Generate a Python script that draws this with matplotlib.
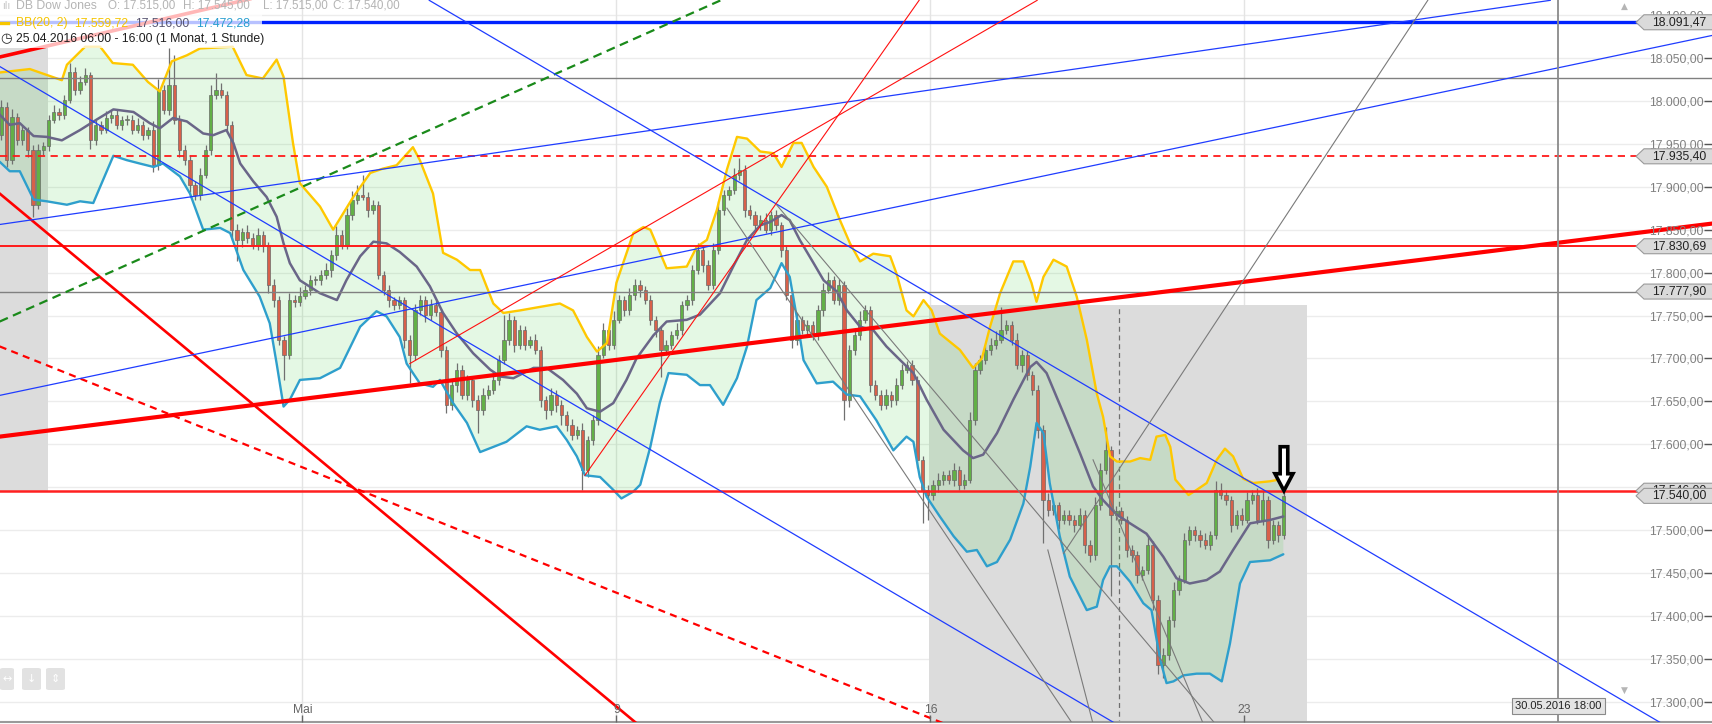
import numpy as np
import matplotlib
matplotlib.use('Agg')
import matplotlib.pyplot as plt
from matplotlib import transforms
from matplotlib.patches import Polygon, Rectangle, FancyBboxPatch
from matplotlib.lines import Line2D

plt.rcParams['font.family'] = ['Liberation Sans', 'DejaVu Sans']

# ---------------- data ----------------
# x unit = trading day since Mon 25.04.2016 (weekdays only); 12 hourly slots per day
slots_per_day = 12
first_slot = 2
first_open = 17960
closes = [
    17993, 17931, 17981, 17954, 17966, 17943, 17879, 17943, 17947, 17978, 17987, 17984,
    18001, 18034, 18013, 18022, 18030, 17954, 17972, 17966, 17980, 17984, 17972, 17978,
    17978, 17966, 17972, 17960, 17966, 17925, 18013, 17989, 18018, 17978, 17943, 17931,
    17902, 17890, 17914, 17943, 18007, 18013, 18007, 17972, 17850, 17838, 17847, 17840,
    17832, 17844, 17832, 17786, 17768, 17722, 17704, 17768, 17766, 17773, 17780, 17791,
    17791, 17797, 17803, 17821, 17844, 17832, 17867, 17885, 17890, 17888, 17873, 17879,
    17797, 17780, 17768, 17762, 17768, 17722, 17704, 17756, 17768, 17751, 17762, 17754,
    17710, 17646, 17669, 17687, 17658, 17675, 17652, 17640, 17658, 17663, 17675, 17698,
    17722, 17745, 17716, 17733, 17716, 17722, 17710, 17652, 17640, 17658, 17646, 17634,
    17623, 17611, 17617, 17570, 17605, 17628, 17704, 17733, 17716, 17745, 17768, 17756,
    17774, 17786, 17780, 17768, 17745, 17733, 17710, 17716, 17727, 17733, 17762, 17768,
    17803, 17826, 17809, 17786, 17826, 17873, 17890, 17896, 17914, 17920, 17873, 17867,
    17855, 17861, 17850, 17867, 17855, 17826, 17774, 17722, 17745, 17733, 17739, 17727,
    17756, 17780, 17791, 17768, 17786, 17652, 17710, 17727, 17745, 17756, 17669, 17658,
    17646, 17658, 17652, 17669, 17687, 17692, 17675, 17582, 17547, 17541, 17553, 17559,
    17564, 17559, 17570, 17553, 17559, 17628, 17687, 17698, 17710, 17716, 17722, 17733,
    17739, 17722, 17692, 17704, 17681, 17663, 17617, 17535, 17524, 17529, 17512, 17518,
    17512, 17506, 17518, 17483, 17471, 17529, 17570, 17593, 17518, 17522, 17512, 17477,
    17471, 17448, 17454, 17483, 17419, 17343, 17355, 17395, 17430, 17442, 17489, 17500,
    17494, 17489, 17483, 17494, 17547, 17541, 17535, 17506, 17518, 17512, 17535, 17541,
    17512, 17535, 17489, 17506, 17494, 17540,
]
wick_up = [
    8, 6, 10, 5, 6, 4, 5, 7, 5, 6, 8, 5,
    6, 10, 5, 7, 8, 4, 6, 5, 8, 5, 6, 4,
    5, 6, 8, 5, 4, 10, 12, 6, 43, 35, 6, 5,
    6, 5, 8, 6, 12, 19, 8, 5, 4, 6, 5, 8,
    6, 8, 5, 4, 6, 5, 4, 8, 6, 10, 5, 6,
    5, 6, 8, 5, 10, 6, 8, 10, 12, 24, 6, 5,
    4, 5, 6, 4, 5, 3, 5, 8, 6, 5, 7, 5,
    4, 5, 6, 8, 5, 6, 4, 5, 8, 6, 10, 6,
    29, 8, 5, 6, 5, 4, 6, 5, 4, 8, 5, 6,
    5, 6, 4, 8, 5, 6, 10, 8, 5, 10, 6, 5,
    8, 6, 5, 4, 6, 5, 4, 6, 5, 8, 5, 6,
    6, 8, 5, 6, 8, 10, 6, 5, 8, 13, 5, 6,
    5, 6, 8, 5, 6, 4, 5, 6, 8, 5, 6, 5,
    6, 8, 10, 5, 6, 4, 6, 8, 10, 6, 5, 6,
    5, 6, 4, 8, 6, 5, 6, 5, 4, 6, 5, 8,
    5, 6, 8, 5, 6, 10, 8, 6, 5, 8, 10, 27,
    6, 5, 8, 6, 5, 4, 6, 5, 8, 5, 4, 6,
    5, 6, 8, 5, 6, 10, 8, 27, 5, 6, 5, 4,
    6, 5, 4, 10, 5, 6, 8, 5, 10, 6, 8, 5,
    5, 6, 8, 5, 10, 8, 6, 5, 6, 8, 10, 6,
    8, 12, 5, 6, 5, 5,
]
wick_dn = [
    6, 8, 5, 6, 5, 8, 14, 5, 6, 5, 4, 6,
    5, 4, 6, 5, 4, 10, 6, 5, 4, 6, 5, 6,
    6, 5, 4, 6, 5, 8, 5, 4, 6, 5, 8, 6,
    8, 6, 5, 4, 6, 5, 4, 6, 12, 25, 8, 6,
    5, 6, 8, 10, 8, 6, 29, 5, 6, 5, 4, 6,
    6, 5, 4, 8, 6, 5, 4, 6, 5, 4, 8, 5,
    5, 6, 8, 5, 4, 10, 33, 6, 5, 8, 6, 5,
    8, 10, 6, 8, 5, 6, 8, 27, 6, 5, 4, 6,
    5, 6, 8, 5, 6, 4, 5, 8, 10, 6, 8, 12,
    8, 6, 5, 23, 8, 6, 5, 4, 6, 5, 4, 6,
    5, 6, 8, 5, 6, 8, 32, 6, 5, 4, 6, 5,
    6, 5, 8, 6, 5, 4, 6, 5, 4, 6, 8, 5,
    6, 5, 4, 6, 5, 8, 6, 10, 6, 5, 4, 6,
    5, 6, 4, 5, 6, 24, 8, 6, 5, 4, 8, 6,
    6, 5, 8, 6, 5, 4, 6, 10, 39, 29, 6, 8,
    6, 5, 8, 6, 5, 4, 6, 5, 4, 6, 5, 4,
    5, 6, 4, 8, 6, 5, 10, 50, 8, 6, 10, 5,
    6, 8, 5, 10, 8, 6, 5, 4, 95, 6, 5, 8,
    8, 10, 6, 5, 12, 10, 15, 6, 8, 5, 4, 6,
    6, 8, 5, 6, 4, 5, 6, 8, 5, 6, 4, 5,
    5, 6, 10, 5, 8, 4,
]

# Bollinger band (20, 2)
upper_x = [0.18, 0.66, 1.17, 1.25, 1.54, 1.78, 1.98, 2.30, 2.54, 2.73, 2.92, 3.16, 3.37, 3.89, 4.11, 4.37,
           4.59, 4.70, 4.85, 4.96, 5.28, 5.49, 5.81, 6.08, 6.28, 6.50, 6.76, 6.87, 7.08, 7.24, 7.46, 7.67,
           7.83, 8.04, 8.20, 8.47, 8.78, 9.10, 9.31, 9.53, 9.69, 9.85, 10.00, 10.27, 10.43, 10.54, 10.80,
           11.12, 11.28, 11.44, 11.60, 11.76, 11.92, 12.08, 12.29, 12.50, 12.63, 12.82, 12.95, 13.14, 13.35,
           13.56, 13.72, 13.88, 14.09, 14.36, 14.46, 14.62, 14.73, 14.89, 15.02, 15.15, 15.47, 15.68, 15.82,
           15.95, 16.11, 16.32, 16.48, 16.61, 16.69, 16.80, 16.96, 17.17, 17.33, 17.49, 17.65, 17.75, 17.86,
           17.97, 18.18, 18.34, 18.50, 18.60, 18.74, 18.82, 18.90, 19.11, 19.24, 19.40, 19.56, 19.69, 19.82,
           19.98, 20.14, 20.41, 20.62]
upper_y = [18033, 18037, 18024, 18042, 18063, 18063, 18044, 18042, 18022, 18011, 18046, 18053, 18061, 18063,
           18030, 18026, 18048, 18028, 17951, 17904, 17877, 17850, 17888, 17916, 17921, 17925, 17946, 17931,
           17892, 17823, 17815, 17803, 17803, 17764, 17753, 17756, 17760, 17764, 17756, 17725, 17708, 17718,
           17788, 17846, 17853, 17850, 17805, 17807, 17830, 17838, 17873, 17920, 17958, 17956, 17941, 17939,
           17923, 17951, 17951, 17923, 17900, 17861, 17834, 17813, 17822, 17819, 17799, 17756, 17749, 17768,
           17756, 17729, 17710, 17689, 17700, 17737, 17776, 17813, 17813, 17788, 17766, 17795, 17815, 17807,
           17772, 17722, 17659, 17632, 17586, 17580, 17580, 17584, 17582, 17609, 17611, 17597, 17559, 17541,
           17547, 17555, 17582, 17595, 17586, 17560, 17555, 17557, 17560]
mid_x = [0.18, 0.34, 0.50, 0.72, 0.93, 1.17, 1.46, 1.72, 1.99, 2.31, 2.57, 2.73, 2.94, 3.16, 3.42, 3.58,
         3.79, 3.90, 4.01, 4.22, 4.43, 4.59, 4.70, 4.80, 4.96, 5.28, 5.55, 5.70, 5.92, 6.13, 6.34, 6.55,
         6.82, 7.03, 7.24, 7.46, 7.72, 7.99, 8.15, 8.36, 8.52, 8.68, 8.89, 9.15, 9.37, 9.53, 9.74, 9.95,
         10.16, 10.32, 10.59, 10.80, 11.12, 11.33, 11.65, 11.86, 12.08, 12.29, 12.45, 12.63, 12.76, 12.92,
         13.14, 13.30, 13.51, 13.67, 13.88, 14.09, 14.30, 14.52, 14.73, 14.94, 15.21, 15.52, 15.68, 15.84,
         16.06, 16.32, 16.59, 16.69, 16.85, 17.12, 17.38, 17.59, 17.75, 17.97, 18.18, 18.44, 18.71, 18.92,
         19.13, 19.40, 19.61, 19.82, 20.09, 20.41, 20.62]
mid_y = [17984, 17972, 17974, 17959, 17958, 17954, 17966, 17978, 17990, 17987, 17974, 17968, 17980, 17976,
         17962, 17960, 17966, 17951, 17927, 17906, 17888, 17865, 17834, 17811, 17791, 17776, 17768, 17791,
         17819, 17836, 17834, 17824, 17807, 17784, 17753, 17729, 17706, 17687, 17679, 17677, 17683, 17689,
         17689, 17675, 17659, 17642, 17638, 17648, 17675, 17700, 17727, 17743, 17745, 17751, 17776, 17807,
         17838, 17855, 17859, 17867, 17861, 17838, 17811, 17791, 17778, 17756, 17737, 17733, 17714, 17698,
         17683, 17652, 17617, 17593, 17584, 17588, 17613, 17652, 17690, 17696, 17683, 17636, 17590, 17551,
         17535, 17518, 17508, 17496, 17469, 17444, 17438, 17442, 17452, 17477, 17508, 17512, 17516]
low_x = [0.18, 0.34, 0.50, 0.72, 0.93, 1.25, 1.46, 1.67, 1.78, 1.99, 2.20, 2.41, 2.63, 2.78, 3.05, 3.21,
         3.42, 3.69, 3.85, 4.06, 4.32, 4.48, 4.59, 4.70, 4.80, 4.96, 5.28, 5.60, 5.92, 6.18, 6.34, 6.55,
         6.66, 6.87, 7.08, 7.19, 7.40, 7.62, 7.83, 8.04, 8.25, 8.57, 8.78, 9.05, 9.21, 9.37, 9.50, 9.74,
         9.95, 10.08, 10.27, 10.38, 10.54, 10.69, 10.83, 11.12, 11.33, 11.49, 11.70, 11.92, 12.08, 12.23,
         12.45, 12.63, 12.76, 12.87, 12.98, 13.19, 13.45, 13.67, 13.88, 14.14, 14.41, 14.62, 14.73, 14.83,
         14.94, 15.15, 15.37, 15.58, 15.74, 15.90, 16.06, 16.27, 16.48, 16.59, 16.69, 16.80, 16.90, 17.06,
         17.22, 17.49, 17.65, 17.75, 17.86, 17.97, 18.18, 18.39, 18.52, 18.66, 18.76, 18.87, 19.03, 19.24,
         19.45, 19.64, 19.77, 19.93, 20.09, 20.41, 20.62]
low_y = [17929, 17918, 17918, 17885, 17883, 17879, 17883, 17881, 17900, 17936, 17931, 17927, 17923, 17927,
         17912, 17892, 17850, 17852, 17846, 17803, 17772, 17741, 17694, 17644, 17652, 17675, 17677, 17689,
         17737, 17755, 17749, 17725, 17694, 17671, 17667, 17675, 17648, 17625, 17591, 17597, 17603, 17621,
         17617, 17621, 17605, 17586, 17564, 17562, 17547, 17537, 17545, 17553, 17597, 17648, 17683, 17681,
         17669, 17669, 17646, 17677, 17714, 17768, 17782, 17811, 17795, 17749, 17698, 17671, 17673, 17658,
         17656, 17628, 17593, 17609, 17603, 17562, 17539, 17516, 17493, 17475, 17477, 17458, 17463, 17489,
         17531, 17574, 17625, 17613, 17555, 17493, 17446, 17407, 17411, 17442, 17458, 17458, 17440, 17415,
         17407, 17349, 17322, 17324, 17331, 17333, 17333, 17324, 17368, 17438, 17463, 17465, 17472]

# horizontal levels
level_blue = 18091.47
level_gray_top = 18027
level_red_dash = 17935.40
level_red_mid = 17830.69
level_gray_mid = 17777.90
level_red_low = 17546
last_price = 17540

# drawn trend lines: ([day0, day1], [price0, price1])
red_main = ([0.18, 27.44], [17609, 17857])
red_top = ([0.18, 4.60], [18051, 18126])
red_fall = ([0.18, 10.62], [17892, 17257])
red_fall_dash = ([0.18, 15.66], [17714, 17262])
green_dash = ([0.18, 11.66], [17743, 18117])
blue_rise_1 = ([0.18, 24.87], [17856, 18117])
blue_rise_2 = ([0.18, 27.44], [17657, 18076])
blue_fall_1 = ([0.18, 18.27], [18040, 17261])
blue_fall_2 = ([7.02, 27.44], [18117, 17241])
red_thin_1 = ([6.71, 16.70], [17694, 18117])
red_thin_2 = ([9.50, 14.82], [17564, 18117])
gray_rise = ([17.12, 22.92], [17473, 18117])
gray_fall_1 = ([11.76, 17.48], [17875, 17251])
gray_fall_2 = ([12.55, 19.74], [17879, 17257])
gray_fall_3 = ([16.87, 17.66], [17477, 17255])
gray_fall_4 = ([17.59, 19.48], [17582, 17251])

left_box = ([0.0, 0.95], [17546, 18061])
right_box = ([14.97, 21.0], [17200, 17762])
dashed_day = 18.0
cursor_day = 25.0
arrow_tip = (20.63, 17546)

week_ticks = [5, 10, 15, 20]
week_labels = ['Mai', '9', '16', '23']
price_ticks = list(range(17300, 18101, 50))
tag_levels = [18091.47, 17935.40, 17830.69, 17777.90, 17546.00, 17540.00]

# ---------------- figure ----------------
W, H = 1712, 724
fig = plt.figure(figsize=(W / 100, H / 100), dpi=100)
ax = fig.add_axes([0, 2 / H, 1, 722 / H])
ax.set_xlim(0.1847, 27.446)
ax.set_ylim(17276.7, 18117.4)
ax.set_facecolor('white')


def de(v):
    s = f"{v:,.2f}"
    return s.replace(',', 'X').replace('.', ',').replace('X', '.')


# grid
for v in price_ticks:
    ax.axhline(v, color='#ececec', lw=1, zorder=0.5)
for d in week_ticks:
    ax.axvline(d, color='#e4e4e4', lw=1, zorder=0.5)

# gray highlight boxes
for bx, by in (left_box, right_box):
    ax.add_patch(Rectangle((bx[0], by[0]), bx[1] - bx[0], by[1] - by[0],
                           fc='#dcdcdc', ec='none', zorder=1))
ax.plot([dashed_day, dashed_day], [right_box[1][0], right_box[1][1]], color='#6f6f6f',
        lw=0.9, ls=(0, (4, 3)), zorder=1.2)

# Bollinger fill
ax.fill(np.r_[upper_x, low_x[::-1]], np.r_[upper_y, low_y[::-1]],
        color='#32cd32', alpha=0.13, lw=0, zorder=2)

# candles
closes_a = np.array(closes, float)
N = len(closes_a)
xb = (first_slot + np.arange(N) + 0.5) / slots_per_day
opens_a = np.r_[first_open, closes_a[:-1]]
hi = np.maximum(opens_a, closes_a) + np.array(wick_up)
lo = np.minimum(opens_a, closes_a) - np.array(wick_dn)
rising = closes_a >= opens_a
ax.vlines(xb, lo, hi, color='#707070', lw=0.9, zorder=2.4)
ax.bar(xb, np.maximum(np.abs(closes_a - opens_a), 1.2), bottom=np.minimum(opens_a, closes_a),
       width=0.052, color=np.where(rising, '#62b046', '#d8604a'), edgecolor='#6a6a6a',
       linewidth=0.5, zorder=2.5)

# band lines
ax.plot(upper_x, upper_y, color='#ffc800', lw=1.7, zorder=3, solid_capstyle='round')
ax.plot(mid_x, mid_y, color='#6a6688', lw=1.8, zorder=3, solid_capstyle='round')
ax.plot(low_x, low_y, color='#2e9fcc', lw=1.7, zorder=3, solid_capstyle='round')

# horizontal levels
ax.axhline(level_blue, color='#0022ff', lw=2.4, zorder=3.5)
ax.axhline(level_gray_top, color='#808080', lw=1.0, zorder=3.5)
ax.axhline(level_red_dash, color='#ff1a1a', lw=1.3, ls=(0, (4, 3)), zorder=3.5)
ax.axhline(level_red_mid, color='#ff1a1a', lw=1.4, zorder=3.5)
ax.axhline(level_gray_mid, color='#808080', lw=1.0, zorder=3.5)
ax.axhline(level_red_low, color='#ff2020', lw=1.8, zorder=3.5)

# trend lines
ax.plot(*red_main, color='#ff0000', lw=3.0, zorder=3.6)
ax.plot(*red_top, color='#ff0000', lw=2.6, zorder=3.6)
ax.plot(*red_fall, color='#ff0000', lw=1.9, zorder=3.6)
ax.plot(*red_fall_dash, color='#ff0000', lw=1.6, ls=(0, (3.2, 2.4)), zorder=3.6)
ax.plot(*green_dash, color='#1a8a1a', lw=1.6, ls=(0, (4, 2.5)), zorder=3.6)
for ln in (blue_rise_1, blue_rise_2, blue_fall_1, blue_fall_2):
    ax.plot(*ln, color='#1f3cff', lw=0.9, zorder=3.6)
for ln in (red_thin_1, red_thin_2):
    ax.plot(*ln, color='#ff1010', lw=0.8, zorder=3.6)
for ln in (gray_rise, gray_fall_1, gray_fall_2, gray_fall_3, gray_fall_4):
    ax.plot(*ln, color='#7a7a7a', lw=0.8, zorder=3.6)

# cursor line + date box
ax.axvline(cursor_day, color='#8a8a8a', lw=1.3, zorder=3.7)
bl = transforms.blended_transform_factory(ax.transData, ax.transAxes)
ax.text(cursor_day, 0.022, '30.05.2016 18:00', transform=bl, ha='center', va='center',
        fontsize=8, color='#222222', zorder=11,
        bbox=dict(boxstyle='square,pad=0.3', fc='#e4e4e4', ec='#8a8a8a', lw=0.8))

# black outline arrow
arrow_px = np.array([(0, 0), (9, 17), (3.8, 17), (3.8, 44), (-3.8, 44), (-3.8, 17), (-9, 17)]) / 100
arr_tr = fig.dpi_scale_trans + transforms.ScaledTranslation(arrow_tip[0], arrow_tip[1], ax.transData)
ax.add_patch(Polygon(arrow_px, closed=True, fc='white', ec='black', lw=2.6,
                     joinstyle='miter', transform=arr_tr, zorder=12))

# right-side price tags
yb = transforms.blended_transform_factory(ax.transAxes, ax.transData)
tag_x = 1636 / W
tag_px = np.array([(0, 0), (8, 7.5), (80, 7.5), (80, -7.5), (8, -7.5)]) / 100
for k, lv in enumerate(tag_levels):
    tr = fig.dpi_scale_trans + transforms.ScaledTranslation(tag_x, lv, yb)
    ax.add_patch(Polygon(tag_px, closed=True, fc='#dadada', ec='#9a9a9a', lw=0.8,
                         transform=tr, zorder=10 + k * 0.1, clip_on=False))
    ax.annotate(de(lv), xy=(tag_x, lv), xycoords=yb, xytext=(43, 0), textcoords='offset pixels',
                ha='center', va='center', fontsize=8.8, color='#222222', zorder=10.05 + k * 0.1,
                annotation_clip=False)

# axes / ticks
for s in ('top', 'left', 'right'):
    ax.spines[s].set_visible(False)
ax.spines['bottom'].set_color('#9a9a9a')
ax.spines['bottom'].set_linewidth(1.5)
ax.yaxis.tick_right()
ax.set_yticks(price_ticks, labels=[de(v) for v in price_ticks])
ax.tick_params(axis='y', direction='in', length=6, width=1, color='#555555',
               labelcolor='#808080', labelsize=8.7, pad=-6)
for lbl in ax.get_yticklabels():
    lbl.set_horizontalalignment('right')
ax.set_xticks(week_ticks, labels=week_labels)
ax.tick_params(axis='x', direction='in', length=5, width=1, color='#666666',
               labelcolor='#666666', labelsize=8.7, pad=-13)
ax.xaxis.set_zorder(9)
ax.yaxis.set_zorder(9)

# legend area (semi transparent white)
fig.add_artist(Rectangle((0, 1 - 48 / H), 262 / W, 48 / H, transform=fig.transFigure,
                         fc='white', ec='none', alpha=0.72, zorder=1))


def ft(px, py, s, **kw):
    fig.text(px / W, 1 - py / H, s, va='center', ha='left', zorder=3, **kw)


ft(16, 6, 'DB Dow Jones', fontsize=8.8, color='#b4b4b4')
ft(108, 6, 'O: 17.515,00', fontsize=8.4, color='#b4b4b4')
ft(183, 6, 'H: 17.545,00', fontsize=8.4, color='#b4b4b4')
ft(263, 6, 'L: 17.515,00', fontsize=8.4, color='#b4b4b4')
ft(333, 6, 'C: 17.540,00', fontsize=8.4, color='#b4b4b4')
ft(2, 6, 'ılı', fontsize=7, color='#c4c4c4', family='DejaVu Sans')
fig.add_artist(Line2D([1 / W, 8 / W], [1 - 23 / H, 1 - 23 / H], lw=2.4, color='#f7c600',
                      transform=fig.transFigure))
ft(16, 23, 'BB(20, 2)', fontsize=8.8, color='#f5c400')
ft(74, 23, '17.559,72', fontsize=8.8, color='#f5c400')
ft(135, 23, '17.516,00', fontsize=8.8, color='#575470')
ft(196, 23, '17.472,28', fontsize=8.8, color='#2a9fd0')
ft(0, 39, '◷', fontsize=9.5, color='#222222', family='DejaVu Sans')
ft(16, 39, '25.04.2016 06:00 - 16:00 (1 Monat, 1 Stunde)', fontsize=8.8, color='#1e1e1e')

# scroll markers
ft(1621, 6, '▲', fontsize=6.5, color='#b5b5b5', family='DejaVu Sans')
ft(1621, 690, '▼', fontsize=6.5, color='#b5b5b5', family='DejaVu Sans')

# small toolbar buttons bottom-left
for (x0, x1), g in zip([(0, 14), (22, 41), (46, 65)], ['↔', '↓', '⇕']):
    fig.add_artist(FancyBboxPatch((x0 / W, 1 - 690 / H), (x1 - x0) / W, 22 / H,
                                  boxstyle='round,pad=0,rounding_size=0.002',
                                  transform=fig.transFigure, fc='#e2e2e2', ec='none', zorder=1))
    fig.text((x0 + x1) / 2 / W, 1 - 679 / H, g, ha='center', va='center', fontsize=8,
             color='white', family='DejaVu Sans', zorder=3)

fig.savefig('out.png', dpi=100)
